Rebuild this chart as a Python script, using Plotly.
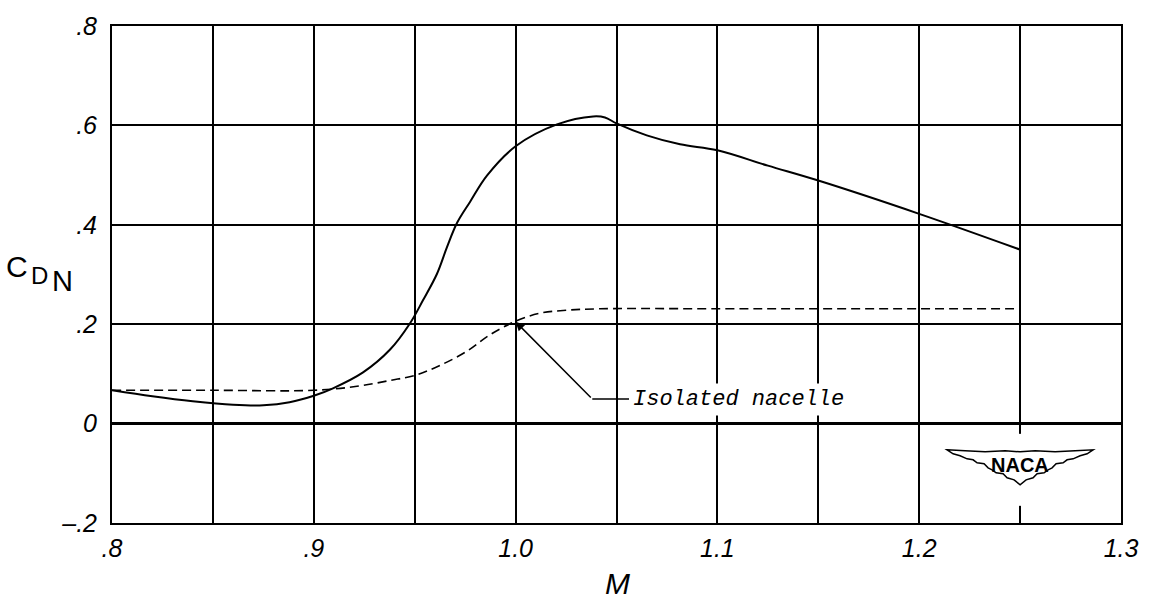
import plotly.graph_objects as go

# Mach number / nacelle drag coefficient, installed configuration (solid)
mach_installed = [0.80, 0.82, 0.84, 0.86, 0.875, 0.888, 0.90, 0.9095, 0.9244, 0.9378,
                  0.9477, 0.9541, 0.961, 0.966, 0.971, 0.9774, 0.9858, 1.00, 1.0205,
                  1.0384, 1.0443, 1.05, 1.065, 1.0815, 1.10, 1.125, 1.15, 1.20, 1.25]
cdn_installed = [0.067, 0.055, 0.045, 0.038, 0.037, 0.043, 0.056, 0.071, 0.103, 0.149,
                 0.202, 0.248, 0.301, 0.355, 0.404, 0.446, 0.499, 0.558, 0.602,
                 0.618, 0.616, 0.604, 0.580, 0.562, 0.550, 0.519, 0.489, 0.422, 0.350]

# Isolated nacelle (dashed)
mach_isolated = [0.80, 0.85, 0.90, 0.9214, 0.938, 0.950, 0.9625, 0.976, 0.987, 1.00,
                 1.012, 1.025, 1.042, 1.10, 1.15, 1.20, 1.25]
cdn_isolated = [0.067, 0.067, 0.067, 0.075, 0.087, 0.097, 0.117, 0.146, 0.178, 0.206,
                0.222, 0.228, 0.231, 0.231, 0.231, 0.231, 0.231]

x_grid = [0.80, 0.85, 0.90, 0.95, 1.00, 1.05, 1.10, 1.15, 1.20, 1.25, 1.30]
x_labels = [".8", "", ".9", "", "1.0", "", "1.1", "", "1.2", "", "1.3"]
y_grid = [-0.2, 0.0, 0.2, 0.4, 0.6, 0.8]
y_labels = ["–.2", "0", ".2", ".4", ".6", ".8"]

label_text = "Isolated nacelle"
label_pos = (1.0562, 0.0495)
arrow_tail = (1.038, 0.0495)
arrow_head = (1.0, 0.205)
logo_anchor = (1.25, -0.089)

tick_font = dict(family="Liberation Sans", size=25, color="black", style="italic")
title_font = dict(family="Liberation Sans", color="black", style="italic")

fig = go.Figure()
fig.add_trace(go.Scatter(x=mach_installed, y=cdn_installed, mode="lines",
                         line=dict(color="black", width=2, shape="spline", smoothing=1.0),
                         hoverinfo="skip", showlegend=False))
fig.add_trace(go.Scatter(x=mach_isolated, y=cdn_isolated, mode="lines",
                         line=dict(color="black", width=1.6, dash="9px,5px",
                                   shape="spline", smoothing=1.0),
                         hoverinfo="skip", showlegend=False))

fig.update_layout(
    width=1157, height=600,
    margin=dict(l=112, r=36, t=17, b=77),
    paper_bgcolor="white", plot_bgcolor="white",
    xaxis=dict(range=[0.8, 1.3], tickvals=x_grid, ticktext=x_labels,
               showgrid=True, gridcolor="black", gridwidth=1.5,
               showline=True, linecolor="black", linewidth=2, mirror=True,
               zeroline=False, ticks="", tickfont=tick_font, ticklabelstandoff=2),
    yaxis=dict(range=[-0.2, 0.8], tickvals=y_grid, ticktext=y_labels,
               showgrid=True, gridcolor="black", gridwidth=1.5,
               showline=True, linecolor="black", linewidth=2, mirror=True,
               zeroline=True, zerolinecolor="black", zerolinewidth=2.5,
               ticks="", tickfont=tick_font, ticklabelstandoff=8),
)

# axis titles
fig.add_annotation(xref="paper", yref="paper", x=0.5005, y=-0.121,
                   xanchor="center", yanchor="middle",
                   text="M", showarrow=False, font=dict(size=30, **title_font))
for txt, px, py, sz in [("C", -0.0942, 0.5158, 30), ("D", -0.0723, 0.498, 24),
                        ("N", -0.0486, 0.486, 29)]:
    fig.add_annotation(xref="paper", yref="paper", x=px, y=py,
                       xanchor="center", yanchor="middle",
                       text=txt, showarrow=False,
                       font=dict(family="Liberation Sans", size=sz, color="black"))

# leader with arrow to the isolated nacelle curve
fig.add_shape(type="line", xref="x", yref="y",
              x0=arrow_tail[0], y0=arrow_tail[1], x1=label_pos[0], y1=label_pos[1],
              line=dict(color="black", width=1.5), layer="above")
fig.add_annotation(xref="x", yref="y", axref="x", ayref="y",
                   x=arrow_head[0], y=arrow_head[1], ax=arrow_tail[0], ay=arrow_tail[1],
                   text="", showarrow=True, arrowhead=2, arrowsize=1.2,
                   arrowwidth=1.5, arrowcolor="black", standoff=0, startstandoff=0)
fig.add_annotation(xref="x", yref="y", x=label_pos[0], y=label_pos[1],
                   text=label_text, showarrow=False, xanchor="left", yanchor="middle",
                   bgcolor="white", borderpad=3,
                   font=dict(family="Liberation Mono", size=22, color="black", style="italic"))

# NACA wing emblem
fig.add_shape(type="rect", xref="x", yref="y", xsizemode="pixel", ysizemode="pixel",
              xanchor=logo_anchor[0], yanchor=logo_anchor[1],
              x0=-5, x1=5, y0=-38, y1=34, fillcolor="white",
              line=dict(width=0), layer="between")
wing_path = ("M -73 18 L -55 17 L -35 16 L -15 17 L 0 16 L 15 17 L 35 16 L 55 17 L 73 18 "
             "L 67 14 L 60 12 L 53 9 L 47 8 L 43 5 L 36 4 L 32 0 L 28 -2 L 24 -5 "
             "L 17 -6 L 13 -10 L 6 -12 L 0 -17 L -6 -12 L -13 -10 L -17 -6 L -24 -5 "
             "L -28 -2 L -32 0 L -36 4 L -43 5 L -47 8 L -53 9 L -60 12 L -67 14 Z")
fig.add_shape(type="path", xref="x", yref="y", xsizemode="pixel", ysizemode="pixel",
              xanchor=logo_anchor[0], yanchor=logo_anchor[1], path=wing_path,
              fillcolor="white", line=dict(color="black", width=1.5), layer="above")
fig.add_annotation(xref="x", yref="y", x=logo_anchor[0], y=logo_anchor[1],
                   yshift=3, text="NACA", showarrow=False,
                   font=dict(family="Liberation Sans", size=20, color="black", weight="bold"))

fig.write_html("out.html")
